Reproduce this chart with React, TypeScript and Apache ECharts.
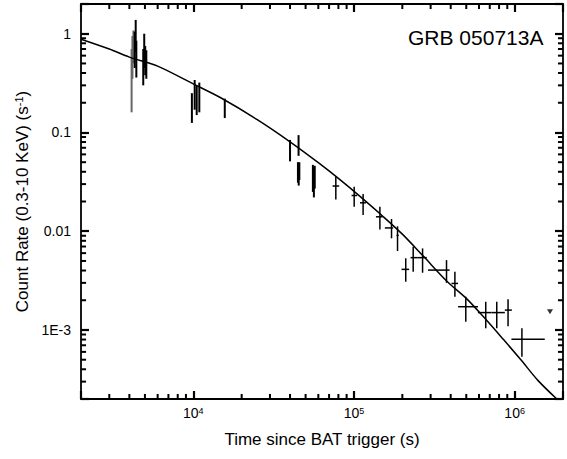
import React, { useEffect, useRef } from 'react';
import * as echarts from 'echarts';

const X_MIN = 2000;
const X_MAX = 2e6;
const Y_MIN = 2e-4;
const Y_MAX = 2;

// Early WT data shown in grey
const grayT = [4130, 4180, 4240];
const grayY = [0.4, 0.65, 0.8];
const grayLo = [0.16, 0.35, 0.5];
const grayHi = [0.7, 0.95, 1.08];

// Early windowed data (black, vertical error bars only)
const blkT = [4320, 4380, 4420, 4880, 4950, 5020, 5100, 9800, 10200, 10500, 10900, 15700, 40000, 45200, 44800, 45300, 45700, 55500, 56300, 57000];
const blkY = [0.75, 0.95, 0.6, 0.5, 0.65, 0.55, 0.5, 0.17, 0.26, 0.22, 0.24, 0.175, 0.066, 0.076, 0.04, 0.038, 0.041, 0.036, 0.033, 0.035];
const blkLo = [0.45, 0.65, 0.36, 0.3, 0.45, 0.38, 0.35, 0.125, 0.17, 0.15, 0.16, 0.14, 0.051, 0.058, 0.031, 0.029, 0.033, 0.025, 0.022, 0.027];
const blkHi = [1.05, 1.38, 0.85, 0.7, 1.0, 0.75, 0.68, 0.25, 0.34, 0.3, 0.32, 0.22, 0.084, 0.094, 0.05, 0.047, 0.05, 0.047, 0.045, 0.046];

// Later data with time bins (crosses)
const pcT = [77100, 100300, 114000, 145000, 171300, 186700, 210000, 233700, 267300, 376700, 424800, 496600, 661000, 774000, 910000, 1110000];
const pcTLo = [73600, 96600, 109000, 137000, 155700, 184000, 197700, 225000, 249500, 289000, 404700, 444600, 591000, 719000, 869000, 955000];
const pcTHi = [80900, 104700, 118700, 150700, 175400, 190000, 220500, 249700, 283800, 394000, 444500, 591700, 719000, 869000, 961000, 1540000];
const pcY = [0.0287, 0.023, 0.0194, 0.014, 0.0108, 0.00906, 0.00411, 0.0054, 0.0054, 0.00404, 0.00296, 0.00172, 0.0015, 0.0015, 0.00159, 0.000804];
const pcYLo = [0.021, 0.0177, 0.0146, 0.0104, 0.00848, 0.0063, 0.00308, 0.00389, 0.0038, 0.003, 0.00217, 0.00121, 0.00104, 0.00104, 0.00109, 0.000537];
const pcYHi = [0.0356, 0.0282, 0.0238, 0.0177, 0.0133, 0.0112, 0.00532, 0.00697, 0.0067, 0.0051, 0.00389, 0.00217, 0.00193, 0.00193, 0.00205, 0.00104];

// Upper limit
const limT = [1660000];
const limY = [0.00153];

// Model curve
const modelT = [2000, 3000, 4000, 6000, 10000, 15000, 25000, 40000, 60000, 80000, 110000, 150000, 200000, 270000, 380000, 500000, 640000, 850000, 1100000, 1400000, 1830000];
const modelR = [0.88, 0.7, 0.58, 0.47, 0.31, 0.222, 0.135, 0.0805, 0.0495, 0.0343, 0.0223, 0.01435, 0.00934, 0.0056, 0.0031, 0.00209, 0.00136, 0.000804, 0.000493, 0.000307, 0.0002];

// Axis minor tick values
const xMinorTicks = [3000, 4000, 5000, 6000, 7000, 8000, 9000, 20000, 30000, 40000, 50000, 60000, 70000, 80000, 90000, 200000, 300000, 400000, 500000, 600000, 700000, 800000, 900000];
const yMinorTicks = [3e-4, 4e-4, 5e-4, 6e-4, 7e-4, 8e-4, 9e-4, 2e-3, 3e-3, 4e-3, 5e-3, 6e-3, 7e-3, 8e-3, 9e-3, 0.02, 0.03, 0.04, 0.05, 0.06, 0.07, 0.08, 0.09, 0.2, 0.3, 0.4, 0.5, 0.6, 0.7, 0.8, 0.9];

const yLabelMap: Record<string, string> = { '1': '1', '0.1': '0.1', '0.01': '0.01', '0.001': '1E-3' };

const FONT = 'Liberation Sans, Arial, sans-serif';

// minor tick length expressed as a ratio along each log axis (about 5 px)
const X_TICK_RATIO = 1.075;
const Y_TICK_RATIO = 1.125;

function errRender(width: number, color: string) {
  return (params: any, api: any) => {
    const t = api.value(0);
    const y = api.value(1);
    const tl = api.value(2);
    const th = api.value(3);
    const yl = api.value(4);
    const yh = api.value(5);
    const top = api.coord([t, yh]);
    const bot = api.coord([t, yl]);
    const children: any[] = [
      { type: 'line', shape: { x1: top[0], y1: top[1], x2: bot[0], y2: bot[1] }, style: { stroke: color, lineWidth: width } },
    ];
    if (th > tl) {
      const l = api.coord([tl, y]);
      const r = api.coord([th, y]);
      children.push({ type: 'line', shape: { x1: l[0], y1: l[1], x2: r[0], y2: r[1] }, style: { stroke: color, lineWidth: width } });
    }
    return { type: 'group', children };
  };
}

function segRender(color: string, width: number) {
  return (params: any, api: any) => {
    const a = api.coord([api.value(2), api.value(4)]);
    const b = api.coord([api.value(3), api.value(5)]);
    return { type: 'line', shape: { x1: a[0], y1: a[1], x2: b[0], y2: b[1] }, style: { stroke: color, lineWidth: width } };
  };
}

export default function App() {
  const ref = useRef<HTMLDivElement>(null);
  useEffect(() => {
    document.body.style.margin = '0';
    const chart = echarts.init(ref.current!, null, { renderer: 'svg' });
    const axisLine = { show: true, onZero: false, lineStyle: { color: '#000', width: 1.8 } };
    const axisTick = { show: true, inside: true, length: 8, lineStyle: { color: '#000', width: 2.2 } };
    const grayData = grayT.map((t, i) => [t, grayY[i], t, t, grayLo[i], grayHi[i]]);
    const blkData = blkT.map((t, i) => [t, blkY[i], t, t, blkLo[i], blkHi[i]]);
    const pcData = pcT.map((t, i) => [t, pcY[i], pcTLo[i], pcTHi[i], pcYLo[i], pcYHi[i]]);
    const minorData = [
      ...xMinorTicks.map((v) => [v, Y_MIN, v, v, Y_MIN, Y_MIN * Y_TICK_RATIO]),
      ...xMinorTicks.map((v) => [v, Y_MAX, v, v, Y_MAX / Y_TICK_RATIO, Y_MAX]),
      ...yMinorTicks.map((v) => [X_MIN, v, X_MIN, X_MIN * X_TICK_RATIO, v, v]),
      ...yMinorTicks.map((v) => [X_MAX, v, X_MAX / X_TICK_RATIO, X_MAX, v, v]),
    ];
    const option: any = {
      animation: false,
      grid: { left: 81, top: 4, right: 4, bottom: 60 },
      title: {
        text: 'GRB 050713A',
        left: 408,
        top: 27,
        textStyle: { fontFamily: FONT, fontSize: 21, fontWeight: 'normal', color: '#000' },
        padding: 0,
      },
      xAxis: [
        {
          type: 'log', logBase: 10, min: X_MIN, max: X_MAX, position: 'bottom',
          axisLine, axisTick, splitLine: { show: false },
          axisLabel: {
            margin: 7, color: '#000', fontFamily: FONT, fontSize: 14,
            formatter: (v: number) => {
              const l = Math.log10(v);
              const e = Math.round(l);
              if (Math.abs(l - e) > 1e-6) return '';
              return '10{sup|' + e + '}';
            },
            rich: { sup: { fontSize: 9, fontFamily: FONT, color: '#000', verticalAlign: 'top', padding: [0, 0, 4, 0] } },
          },
          name: 'Time since BAT trigger (s)', nameLocation: 'middle', nameGap: 32,
          nameTextStyle: { fontFamily: FONT, fontSize: 17, color: '#000' },
        },
        {
          type: 'log', logBase: 10, min: X_MIN, max: X_MAX, position: 'top',
          axisLine, axisTick, splitLine: { show: false }, axisLabel: { show: false },
        },
      ],
      yAxis: [
        {
          type: 'log', logBase: 10, min: Y_MIN, max: Y_MAX, position: 'left',
          axisLine, axisTick, splitLine: { show: false },
          axisLabel: {
            margin: 10, color: '#000', fontFamily: FONT, fontSize: 14,
            formatter: (v: number) => {
              const k = String(Number(v.toPrecision(6)));
              return yLabelMap[k] !== undefined ? yLabelMap[k] : '';
            },
          },
          name: 'Count Rate (0.3-10 KeV) (s{sup|-1})', nameLocation: 'middle', nameGap: 39,
          nameTextStyle: {
            fontFamily: FONT, fontSize: 17, color: '#000',
            rich: { sup: { fontSize: 11, fontFamily: FONT, color: '#000', verticalAlign: 'top', padding: [0, 0, 5, 0] } },
          },
        },
        {
          type: 'log', logBase: 10, min: Y_MIN, max: Y_MAX, position: 'right',
          axisLine, axisTick, splitLine: { show: false }, axisLabel: { show: false },
        },
      ],
      series: [
        {
          type: 'custom', name: 'minorTicks', xAxisIndex: 0, yAxisIndex: 0, clip: true,
          data: minorData, encode: { x: [0, 2, 3], y: [1, 4, 5] },
          renderItem: segRender('#000', 2),
        },
        {
          type: 'custom', name: 'gray', xAxisIndex: 0, yAxisIndex: 0, clip: true,
          data: grayData, encode: { x: [0, 2, 3], y: [1, 4, 5] },
          renderItem: errRender(2, '#666666'),
        },
        {
          type: 'custom', name: 'early', xAxisIndex: 0, yAxisIndex: 0, clip: true,
          data: blkData, encode: { x: [0, 2, 3], y: [1, 4, 5] },
          renderItem: errRender(2, '#000'),
        },
        {
          type: 'custom', name: 'late', xAxisIndex: 0, yAxisIndex: 0, clip: true,
          data: pcData, encode: { x: [0, 2, 3], y: [1, 4, 5] },
          renderItem: errRender(1.5, '#000'),
        },
        {
          type: 'scatter', name: 'limit', xAxisIndex: 0, yAxisIndex: 0,
          data: limT.map((t, i) => [t, limY[i]]),
          symbol: 'triangle', symbolRotate: 180, symbolSize: [6, 5],
          itemStyle: { color: '#000' },
        },
        {
          type: 'line', name: 'model', xAxisIndex: 0, yAxisIndex: 0,
          data: modelT.map((t, i) => [t, modelR[i]]),
          showSymbol: false, symbol: 'none', smooth: 0.3, clip: true,
          lineStyle: { color: '#000', width: 1.5 },
        },
      ],
    };
    chart.setOption(option);
    return () => chart.dispose();
  }, []);
  return <div ref={ref} style={{ width: 567, height: 459 }} />;
}
